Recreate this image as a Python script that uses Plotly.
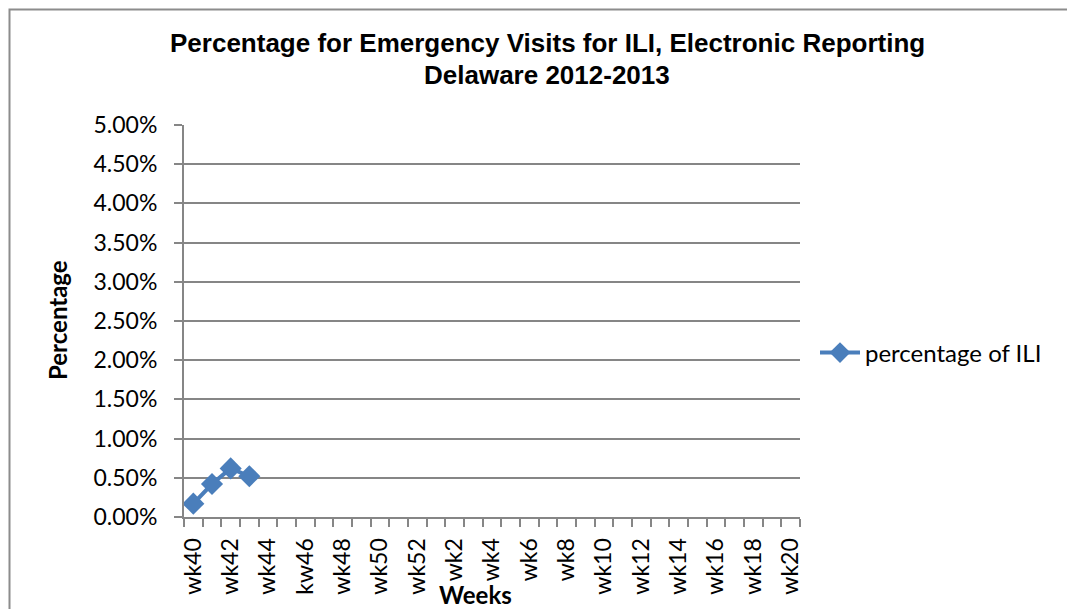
import plotly.graph_objects as go

weeks = ["wk40", "wk41", "wk42", "wk43", "wk44", "wk45", "kw46", "wk47", "wk48", "wk49",
         "wk50", "wk51", "wk52", "wk1", "wk2", "wk3", "wk4", "wk5", "wk6", "wk7", "wk8",
         "wk9", "wk10", "wk11", "wk12", "wk13", "wk14", "wk15", "wk16", "wk17", "wk18",
         "wk19", "wk20"]
observed_weeks = ["wk40", "wk41", "wk42", "wk43"]
pct_ili = [0.0017, 0.0042, 0.0062, 0.0052]
y_ticks = [i * 0.005 for i in range(11)]
tick_text = [w if i % 2 == 0 else "" for i, w in enumerate(weeks)]

OFF = 8  # page body margin
W, H = 1075 - OFF, 609 - OFF
L, R, T, B = 184 - OFF, 800 - OFF, 125 - OFF, 517 - OFF
pw, ph = R - L, B - T

def px(x):
    return (x - OFF - L) / pw

def py(y):
    return (B - (y - OFF)) / ph

BLUE = "#4A7EBB"
GRID = "#868686"
TICKFONT = dict(family="Lato, Liberation Sans, sans-serif", size=23, color="black")
TITLEFONT = dict(family="Liberation Sans, Arial, sans-serif", size=26, color="black", weight="bold")

fig = go.Figure()
fig.add_trace(go.Scatter(
    x=observed_weeks, y=pct_ili, mode="lines+markers", name="percentage of ILI",
    line=dict(color=BLUE, width=4),
    marker=dict(symbol="diamond", size=17, color=BLUE),
))

fig.update_layout(
    width=W, height=H,
    margin=dict(l=L, r=W - R, t=T, b=H - B, autoexpand=False),
    paper_bgcolor="white", plot_bgcolor="white",
    showlegend=True,
    legend=dict(x=px(815), y=py(353), xanchor="left", yanchor="middle",
                font=dict(family="Lato, Liberation Sans, sans-serif", size=24, color="black"),
                bgcolor="rgba(0,0,0,0)", itemwidth=40),
    xaxis=dict(
        type="category", categoryorder="array", categoryarray=weeks,
        range=[-0.5, len(weeks) - 0.5],
        tickmode="array", tickvals=weeks, ticktext=tick_text,
        tickson="boundaries", ticks="outside", ticklen=8, tickcolor=GRID, tickwidth=2,
        tickangle=-90, tickfont=TICKFONT, ticklabelstandoff=10,
        showline=True, linecolor=GRID, linewidth=2, showgrid=False, zeroline=False,
    ),
    yaxis=dict(
        range=[0, 0.05], tickmode="array", tickvals=y_ticks, tickformat=".2%",
        ticks="outside", ticklen=8, tickcolor=GRID, tickwidth=2, tickfont=TICKFONT,
        ticklabelstandoff=12,
        showline=True, linecolor=GRID, linewidth=2,
        showgrid=True, gridcolor=GRID, gridwidth=1.5, zeroline=False,
    ),
    annotations=[
        dict(text="<b>Percentage for Emergency Visits for ILI, Electronic Reporting</b>",
             x=px(547), y=py(43), xref="paper", yref="paper", showarrow=False,
             xanchor="center", yanchor="middle", font=TITLEFONT),
        dict(text="<b>Delaware 2012-2013</b>",
             x=px(547), y=py(75), xref="paper", yref="paper", showarrow=False,
             xanchor="center", yanchor="middle", font=TITLEFONT),
        dict(text="<b>Percentage</b>", x=px(57), y=py(320), xref="paper", yref="paper",
             textangle=-90, showarrow=False, xanchor="center", yanchor="middle",
             font=dict(family="Lato, Liberation Sans, sans-serif", size=24, color="black")),
        dict(text="<b>Weeks</b>", x=px(475), y=py(594), xref="paper", yref="paper",
             showarrow=False, xanchor="center", yanchor="middle",
             font=dict(family="Lato, Liberation Sans, sans-serif", size=24, color="black")),
    ],
    shapes=[
        dict(type="rect", xref="paper", yref="paper",
             x0=px(9.5), x1=px(1073), y0=py(640), y1=py(9.5),
             line=dict(color="#8C8C8C", width=2), layer="below"),
    ],
)

fig.write_html("out.html")
